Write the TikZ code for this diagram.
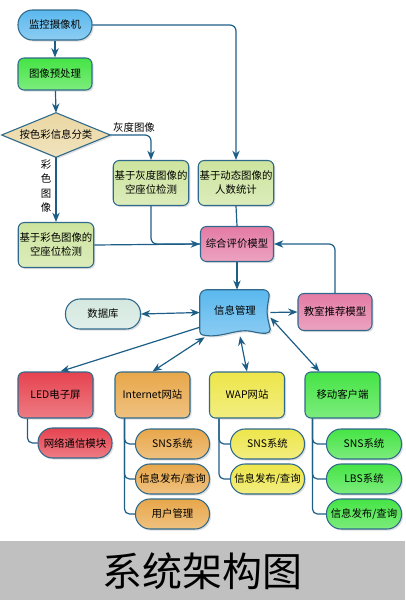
\documentclass[tikz,border=0pt]{standalone}
\usepackage{fontspec}
\setmainfont{Noto Sans CJK SC}
\usetikzlibrary{arrows.meta,shapes.geometric,shadows,calc}
\newlength{\upx}
\setlength{\upx}{0.75pt}
\definecolor{bline}{HTML}{2F6A8C}
\definecolor{aline}{HTML}{1D5E87}
\definecolor{cblue}{HTML}{5BB8EE}
\definecolor{cgreen}{HTML}{45E445}
\definecolor{ctan}{HTML}{EAD7A2}
\definecolor{cpale}{HTML}{CDE49E}
\definecolor{cpink}{HTML}{E47BA5}
\definecolor{cdb}{HTML}{D4E8E0}
\definecolor{cred}{HTML}{E6434F}
\definecolor{corange}{HTML}{E8A74A}
\definecolor{cyellow}{HTML}{EDE64A}
\definecolor{cband}{HTML}{C0C0C0}
\tikzset{
  box/.style={draw=bline, line width=0.8pt, rounded corners=6\upx,
    minimum width=75\upx, minimum height=45\upx, inner sep=1pt, align=center,
    font=\fontsize{7.8}{10.5}\selectfont,
    drop shadow={opacity=0.25, shadow xshift=1.2pt, shadow yshift=-1.2pt}},
  pill/.style={box, rounded corners=14.5\upx, minimum height=30\upx},
  fillc/.style={top color=#1, bottom color=#1!70!white},
  conn/.style={draw=aline, line width=0.9pt},
  arr/.style={conn, -{Stealth[length=7pt,width=5.5pt]}},
  darr/.style={conn, {Stealth[length=7pt,width=5.5pt]}-{Stealth[length=7pt,width=5.5pt]}},
  branch/.style={conn, rounded corners=5\upx},
  lbl/.style={font=\fontsize{7.8}{10.5}\selectfont, inner sep=0pt},
}
\begin{document}
\begin{tikzpicture}[x=0.75pt,y=-0.75pt]
\useasboundingbox (0,0) rectangle (405,600);
% title band
\fill[cband] (0,541) rectangle (405,600);
\node[font=\fontsize{30}{33}\selectfont] (title) at (202.5,571) {系统架构图};

% top chain
\node[pill, fillc=cblue, minimum width=74\upx] (cam) at (55,25) {监控摄像机};
\node[box, fillc=cgreen, minimum width=74\upx, minimum height=32\upx] (pre) at (55,74) {图像预处理};
\node[minimum width=108\upx, minimum height=44\upx, inner sep=0pt] (dia) at (56,135) {};
\filldraw[draw=bline, line width=0.8pt, fillc=ctan, drop shadow={opacity=0.25, shadow xshift=1.2pt, shadow yshift=-1.2pt}]
  (dia.north) -- (dia.east) -- (dia.south) -- (dia.west) -- cycle;
\node[lbl] at (dia.center) {按色彩信息分类};

\node[box, fillc=cpale] (gray) at (151,183) {基于灰度图像的\\空座位检测};
\node[box, fillc=cpale] (dyn) at (236,183) {基于动态图像的\\人数统计};
\node[box, fillc=cpale] (col) at (56,245) {基于彩色图像的\\空座位检测};
\node[box, fillc=cpink, minimum width=73\upx, minimum height=35\upx] (comp) at (237,244) {综合评价模型};

\node[lbl] (glabel) at (134,128) {灰度图像};
\node[lbl, align=center, font=\fontsize{7.8}{10.8}\selectfont] (clabel) at (46,186) {彩\\色\\图\\像};

% info management (document shape)
\node[minimum width=70\upx, minimum height=45\upx, inner sep=0pt] (info) at (235,312.5) {};
\filldraw[draw=bline, line width=0.8pt, fillc=cblue, drop shadow={opacity=0.25, shadow xshift=1.2pt, shadow yshift=-1.2pt}]
  ($(info.south west)+(0,-6)$) [rounded corners=7\upx] -- (info.north west) -- (info.north east) [sharp corners]
  .. controls ($(info.east)+(-4,0)$) .. ($(info.south east)+(0,-6)$)
  .. controls ($(info.south east)+(0,-1)$) and ($(info.south east)+(-6,-1)$) .. ($(info.south)+(16,-4)$)
  .. controls ($(info.south)+(2,-7)$) and ($(info.south)+(-14,3)$) .. ($(info.south west)+(5,0)$)
  .. controls ($(info.south west)+(1,0)$) and ($(info.south west)+(0,-2)$) .. ($(info.south west)+(0,-6)$)
  -- cycle;
\node[lbl] at ($(info.center)+(0,-2)$) {信息管理};

\node[pill, fillc=cdb, minimum width=75\upx] (db) at (103,314) {数据库};
\node[box, fillc=cpink, minimum width=74\upx, minimum height=37\upx] (rec) at (335,312) {教室推荐模型};

% output nodes
\node[box, fillc=cred, minimum height=46\upx] (led) at (55.5,395) {LED电子屏};
\node[box, fillc=corange, minimum height=46\upx] (web) at (152.5,395) {Internet网站};
\node[box, fillc=cyellow, minimum height=46\upx] (wap) at (247,395) {WAP网站};
\node[box, fillc=cgreen, minimum height=46\upx] (mob) at (342.5,395) {移动客户端};

\node[pill, fillc=cred, minimum width=74\upx] (led1) at (75,443) {网络通信模块};
\node[pill, fillc=corange, minimum width=74\upx] (web1) at (172.5,444) {SNS系统};
\node[pill, fillc=corange, minimum width=74\upx] (web2) at (172.5,479) {信息发布/查询};
\node[pill, fillc=corange, minimum width=74\upx] (web3) at (172.5,514) {用户管理};
\node[pill, fillc=cyellow, minimum width=74\upx] (wap1) at (267.5,444) {SNS系统};
\node[pill, fillc=cyellow, minimum width=74\upx] (wap2) at (267.5,479) {信息发布/查询};
\node[pill, fillc=cgreen, minimum width=75\upx] (mob1) at (364,444) {SNS系统};
\node[pill, fillc=cgreen, minimum width=75\upx] (mob2) at (364,479) {LBS系统};
\node[pill, fillc=cgreen, minimum width=75\upx] (mob3) at (364,514) {信息发布/查询};

% connectors
\draw[arr] (cam) -- (pre);
\draw[arr] (pre) -- (dia.north);
\draw[arr, rounded corners=6\upx] (cam.east) -| (dyn.north);
\draw[arr, rounded corners=6\upx] (dia.east) -| (gray.north);
\draw[arr] (dia.south) -- (col.north);
\draw[conn, rounded corners=6\upx] (gray.south) |- (comp.west);
\draw[arr] (col.east) -- (comp.west);
\draw[conn] (dyn.south) -- (comp.north);
\draw[arr, rounded corners=6\upx] (rec.north) |- (comp.east);
\draw[arr] (comp.south) -- (info.north -| comp.south);
\draw[darr] (db.east) -- (info.west);
\draw[arr] (info.east) -- (rec.west);
\draw[arr] ($(info.south west)+(0,-8)$) -- ($(led.north)+(5,0)$);
\draw[darr] ($(info.south west)+(5,2)$) -- (web.north);
\draw[darr] ($(info.south)+(5,1)$) -- (wap.north);
\draw[darr] ($(info.east)+(0,5)$) -- ($(mob.north west)+(15,0)$);

\draw[branch] ($(led.south west)+(10,0)$) |- (led1.west);
\draw[branch] ($(web.south west)+(10,0)$) |- (web3.west);
\draw[branch] ($(web.south west)+(10,0)$) |- (web1.west);
\draw[branch] ($(web.south west)+(10,0)$) |- (web2.west);
\draw[branch] ($(wap.south west)+(10,0)$) |- (wap2.west);
\draw[branch] ($(wap.south west)+(10,0)$) |- (wap1.west);
\draw[branch] ($(mob.south west)+(8,0)$) |- (mob3.west);
\draw[branch] ($(mob.south west)+(8,0)$) |- (mob1.west);
\draw[branch] ($(mob.south west)+(8,0)$) |- (mob2.west);
\end{tikzpicture}
\end{document}
